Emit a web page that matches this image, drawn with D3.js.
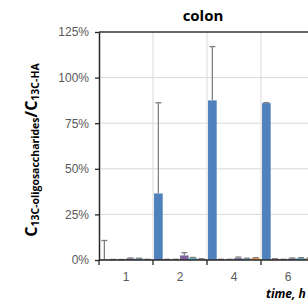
<!DOCTYPE html>
<html>
<head>
<meta charset="utf-8">
<script src="https://cdn.jsdelivr.net/npm/d3@7"></script>
<style>
  body { margin: 0; background: #fff; }
  svg { display: block; font-family: "Open Sans", "DejaVu Sans", sans-serif; }
</style>
</head>
<body>
<svg id="chart" width="308" height="301"></svg>
<script>
// time points (h)
const times = ["1", "2", "4", "6"];
const seriesNames = ["s1", "s2", "s3", "s4", "s5", "s6"];
const seriesColors = ["#4f81bd", "#c0504d", "#9bbb59", "#8064a2", "#4bacc6", "#f79646"];

// mean values (%) per series, one per time point
const s1 = [0.3, 36.5, 87.5, 86.0];
const s2 = [0.2, 0.3, 0.3, 0.5];
const s3 = [0.2, 0.3, 0.3, 0.3];
const s4 = [0.8, 2.5, 1.0, 0.8];
const s5 = [0.8, 1.0, 0.7, 1.0];
const s6 = [0.3, 0.5, 1.0, 0.8];

// error (+) per series
const e1 = [10.4, 49.7, 29.5, 0.3];
const e2 = [0.1, 0.1, 0.1, 0.2];
const e3 = [0.1, 0.1, 0.1, 0.1];
const e4 = [0.3, 1.5, 0.6, 0.3];
const e5 = [0.2, 0.4, 0.3, 0.3];
const e6 = [0.1, 0.2, 0.3, 0.3];

const yTicks = [0, 25, 50, 75, 100, 125];

const values = [s1, s2, s3, s4, s5, s6];
const errors = [e1, e2, e3, e4, e5, e6];

const svg = d3.select("#chart");
const plotLeft = 99, plotTop = 32, plotBottom = 260;

const x = d3.scaleBand().domain(times).range([plotLeft, plotLeft + 54 * times.length]).paddingInner(0).paddingOuter(0);
const xs = d3.scaleBand().domain(seriesNames).range([0, x.bandwidth()]).paddingOuter(0.12).paddingInner(0);
const y = d3.scaleLinear().domain([0, 125]).range([plotBottom, plotTop]);

// horizontal gridlines
svg.append("g").selectAll("line")
  .data(yTicks.slice(1, -1))
  .enter().append("line")
  .attr("x1", plotLeft).attr("x2", 308)
  .attr("y1", d => y(d)).attr("y2", d => y(d))
  .attr("stroke", "#d9d9d9").attr("stroke-width", 1);

// vertical gridlines between time points
svg.append("g").selectAll("line")
  .data(times.slice(1))
  .enter().append("line")
  .attr("x1", d => x(d)).attr("x2", d => x(d))
  .attr("y1", plotTop).attr("y2", plotBottom)
  .attr("stroke", "#d9d9d9").attr("stroke-width", 1);

// top border
svg.append("line")
  .attr("x1", plotLeft).attr("x2", 308)
  .attr("y1", y(125)).attr("y2", y(125))
  .attr("stroke", "#333").attr("stroke-width", 1.6);

// bars
const rows = [];
times.forEach((t, i) => {
  seriesNames.forEach((s, j) => {
    rows.push({ t: t, s: s, j: j, v: values[j][i], e: errors[j][i] });
  });
});

svg.append("g").selectAll("rect")
  .data(rows)
  .enter().append("rect")
  .attr("x", d => x(d.t) + xs(d.s))
  .attr("y", d => y(d.v))
  .attr("width", xs.bandwidth())
  .attr("height", d => y(0) - y(d.v))
  .attr("fill", d => seriesColors[d.j]);

// error bars (plus only)
const eb = svg.append("g").attr("stroke", "#7f7f7f").attr("stroke-width", 1.3);
eb.selectAll(".stem")
  .data(rows)
  .enter().append("line")
  .attr("x1", d => x(d.t) + xs(d.s) + xs.bandwidth() / 2)
  .attr("x2", d => x(d.t) + xs(d.s) + xs.bandwidth() / 2)
  .attr("y1", d => y(d.v))
  .attr("y2", d => y(d.v + d.e));
eb.selectAll(".cap")
  .data(rows)
  .enter().append("line")
  .attr("x1", d => x(d.t) + xs(d.s) + xs.bandwidth() / 2 - 3)
  .attr("x2", d => x(d.t) + xs(d.s) + xs.bandwidth() / 2 + 3)
  .attr("y1", d => y(d.v + d.e))
  .attr("y2", d => y(d.v + d.e));

// y axis
const yAxis = svg.append("g")
  .attr("transform", `translate(${plotLeft},0)`)
  .call(d3.axisLeft(y).tickValues(yTicks).tickFormat(d => d + "%").tickSize(4).tickSizeOuter(0));
yAxis.select(".domain").attr("stroke", "#262626").attr("stroke-width", 1.5);
yAxis.selectAll(".tick line").attr("stroke", "#262626").attr("stroke-width", 1.3);
yAxis.selectAll("text")
  .attr("x", -10)
  .attr("fill", "#595959")
  .style("font-size", "12px");

// x axis
const xAxis = svg.append("g")
  .attr("transform", `translate(0,${plotBottom})`)
  .call(d3.axisBottom(x).tickSize(0).tickSizeOuter(0));
xAxis.select(".domain").attr("stroke", "#262626").attr("stroke-width", 1.5).attr("d", `M${plotLeft},0H308`);
xAxis.selectAll("text")
  .attr("y", 12)
  .attr("fill", "#595959")
  .style("font-size", "12px");
// tick marks at band boundaries
xAxis.selectAll(".bt")
  .data(times)
  .enter().append("line")
  .attr("x1", d => x(d)).attr("x2", d => x(d))
  .attr("y1", 0).attr("y2", 5)
  .attr("stroke", "#262626").attr("stroke-width", 1.3);

// title
svg.append("text")
  .attr("x", 203).attr("y", 21)
  .attr("text-anchor", "middle")
  .style("font-size", "15px").style("font-weight", "bold")
  .attr("fill", "#000")
  .text("colon");

// x axis title
svg.append("text")
  .attr("x", 266).attr("y", 298)
  .style("font-size", "12px").style("font-weight", "bold").style("font-style", "italic")
  .attr("fill", "#000")
  .text("time, h");

// y axis title
const yt = svg.append("text")
  .attr("transform", "translate(37,150) rotate(-90)")
  .attr("text-anchor", "middle")
  .style("font-weight", "bold")
  .attr("fill", "#000");
yt.append("tspan").style("font-size", "16px").text("C");
yt.append("tspan").style("font-size", "10.5px").attr("dy", 2).text("13C-oligosaccharides");
yt.append("tspan").style("font-size", "16px").attr("dy", -2).text("/C");
yt.append("tspan").style("font-size", "10.5px").attr("dy", 2).text("13C-HA");
</script>
</body>
</html>
